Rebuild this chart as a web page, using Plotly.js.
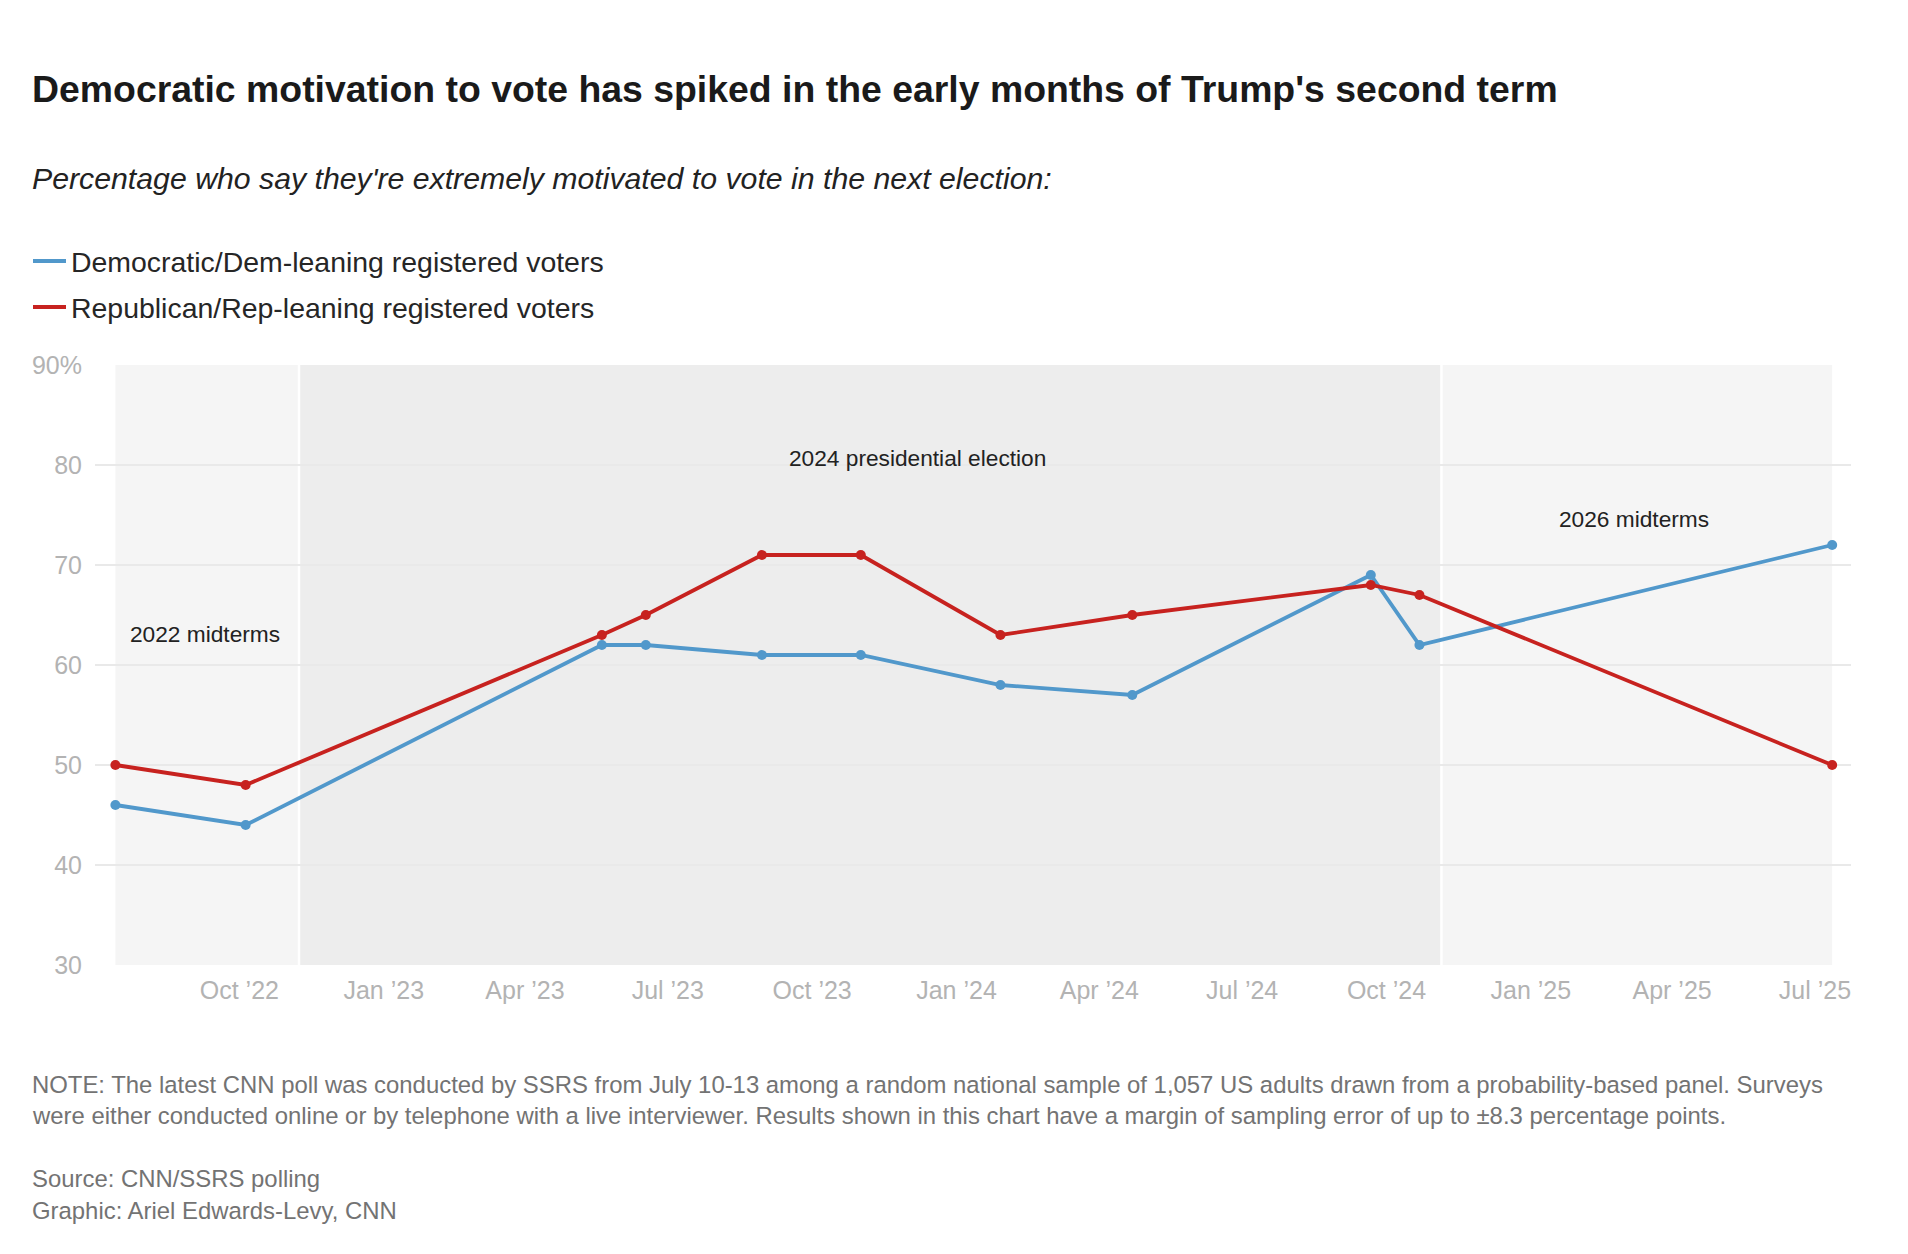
<!DOCTYPE html>
<html>
<head>
<meta charset="utf-8">
<script src="https://cdn.plot.ly/plotly-3.0.1.min.js"></script>
<style>
  html, body { margin: 0; padding: 0; background: #ffffff; }
  #chart { width: 1908px; height: 1254px; }
</style>
</head>
<body>
<div id="chart"></div>
<script>
// ---- data ----
const pollDates = ['2022-07-14','2022-10-05','2023-05-20','2023-06-17','2023-08-30','2023-11-01','2024-01-29','2024-04-22','2024-09-21','2024-10-22','2025-07-12'];
const demValues = [46, 44, 62, 62, 61, 61, 58, 57, 69, 62, 72];
const repValues = [50, 48, 63, 65, 71, 71, 63, 65, 68, 67, 50];
const demName = 'Democratic/Dem-leaning registered voters';
const repName = 'Republican/Rep-leaning registered voters';

const tickDates  = ['2022-10-01','2023-01-01','2023-04-01','2023-07-01','2023-10-01','2024-01-01','2024-04-01','2024-07-01','2024-10-01','2025-01-01','2025-04-01','2025-07-01'];
const tickLabels = ['Oct \u201922','Jan \u201923','Apr \u201923','Jul \u201923','Oct \u201923','Jan \u201924','Apr \u201924','Jul \u201924','Oct \u201924','Jan \u201925','Apr \u201925','Jul \u201925'];
const yTickValues = [30, 40, 50, 60, 70, 80, 90];
const yTickLabels = ['30', '40', '50', '60', '70', '80', '90%'];

const periodLabels = ['2022 midterms', '2024 presidential election', '2026 midterms'];
const periodStarts = ['2022-07-14', '2022-11-08', '2024-11-05'];
const periodEnds   = ['2022-11-08', '2024-11-05', '2025-07-12'];
const periodLabelDates  = ['2022-07-22', '2023-12-07', '2025-03-08'];
const periodLabelValues = [63.1, 80.7, 74.6];

const titleText = "Democratic motivation to vote has spiked in the early months of Trump's second term";
const subtitleText = "Percentage who say they're extremely motivated to vote in the next election:";
const noteLines = [
  'NOTE: The latest CNN poll was conducted by SSRS from July 10-13 among a random national sample of 1,057 US adults drawn from a probability-based panel. Surveys',
  'were either conducted online or by telephone with a live interviewer. Results shown in this chart have a margin of sampling error of up to \u00b18.3 percentage points.',
  'Source: CNN/SSRS polling',
  'Graphic: Ariel Edwards-Levy, CNN'
];

// ---- styles ----
const FONT = 'Liberation Sans, Arial, Helvetica, sans-serif';
const BLUE = '#5198cb';
const RED = '#c7221f';
const periodFills = ['#f5f5f5', '#ededed', '#f5f5f5'];

const W = 1908, H = 1254;
const M = { l: 95, r: 57, t: 365, b: 289, autoexpand: false };
const plotW = W - M.l - M.r, plotH = H - M.t - M.b;
const px = X => (X - M.l) / plotW;      // container px -> paper x
const py = Y => (H - M.b - Y) / plotH;  // container px -> paper y

const traces = [
  { x: pollDates, y: demValues, name: demName, type: 'scatter', mode: 'lines',
    line: { color: BLUE, width: 3.8 }, legendgroup: 'd', showlegend: true, hoverinfo: 'skip' },
  { x: pollDates, y: repValues, name: repName, type: 'scatter', mode: 'lines',
    line: { color: RED, width: 3.8 }, legendgroup: 'r', showlegend: true, hoverinfo: 'skip' },
  { x: pollDates, y: demValues, name: demName, type: 'scatter', mode: 'markers',
    marker: { color: BLUE, size: 10 }, legendgroup: 'd', showlegend: false },
  { x: pollDates, y: repValues, name: repName, type: 'scatter', mode: 'markers',
    marker: { color: RED, size: 10 }, legendgroup: 'r', showlegend: false }
];

const shapes = [];
periodStarts.forEach((s, i) => {
  shapes.push({ type: 'rect', xref: 'x', yref: 'paper', x0: s, x1: periodEnds[i], y0: 0, y1: 1,
    fillcolor: periodFills[i], line: { width: 0 }, layer: 'below' });
});
periodStarts.slice(1).forEach(s => {
  shapes.push({ type: 'line', xref: 'x', yref: 'paper', x0: s, x1: s, y0: 0, y1: 1,
    line: { color: '#ffffff', width: 2.5 }, layer: 'below' });
});

const annotations = [];
periodLabels.forEach((t, i) => {
  annotations.push({ text: t, x: periodLabelDates[i], y: periodLabelValues[i], xref: 'x', yref: 'y',
    xanchor: i === 0 ? 'left' : 'center', yanchor: 'middle', showarrow: false,
    font: { family: FONT, size: 22.7, color: '#222222' } });
});
annotations.push({ text: '<i>' + subtitleText + '</i>', xref: 'paper', yref: 'paper',
  x: px(30), y: py(179), xanchor: 'left', yanchor: 'middle', showarrow: false,
  font: { family: FONT, size: 30.25, color: '#222222' } });
const noteY = [1084.5, 1115.5, 1178.5, 1210];
noteLines.forEach((t, i) => {
  annotations.push({ text: t, xref: 'paper', yref: 'paper', x: px(30), y: py(noteY[i]),
    xanchor: 'left', yanchor: 'middle', showarrow: false,
    font: { family: FONT, size: 23.9, color: '#737373' } });
});

const layout = {
  width: W, height: H,
  margin: M,
  paper_bgcolor: '#ffffff', plot_bgcolor: '#ffffff',
  font: { family: FONT },
  title: { text: titleText, xref: 'container', yref: 'container', x: 32 / W, y: 1 - 89 / H,
    xanchor: 'left', yanchor: 'middle', automargin: false,
    font: { family: FONT, size: 37.4, weight: 'bold', color: '#1a1a1a' } },
  showlegend: true,
  legend: { xref: 'container', yref: 'container', x: 28 / W, y: 1 - 236 / H,
    xanchor: 'left', yanchor: 'top', orientation: 'v', bgcolor: 'rgba(0,0,0,0)',
    font: { family: FONT, size: 28.45, color: '#262626' }, itemwidth: 33, tracegroupgap: 6,
    traceorder: 'grouped' },
  xaxis: { type: 'date', range: ['2022-07-01', '2025-07-24'], tickmode: 'array',
    tickvals: tickDates, ticktext: tickLabels, showgrid: false, zeroline: false, showline: false,
    ticks: '', ticklabelstandoff: 8, automargin: false,
    tickfont: { family: FONT, size: 25, color: '#b3b3b3' } },
  yaxis: { range: [30, 90], tickmode: 'array', tickvals: yTickValues, ticktext: yTickLabels,
    showgrid: true, gridcolor: '#e9e9e9', gridwidth: 1.5, zeroline: false, showline: false,
    ticks: '', ticklabelstandoff: 12, automargin: false,
    tickfont: { family: FONT, size: 25, color: '#b3b3b3' } },
  shapes: shapes,
  annotations: annotations,
  hovermode: false
};

Plotly.newPlot('chart', traces, layout, { staticPlot: true, displayModeBar: false });
</script>
</body>
</html>
